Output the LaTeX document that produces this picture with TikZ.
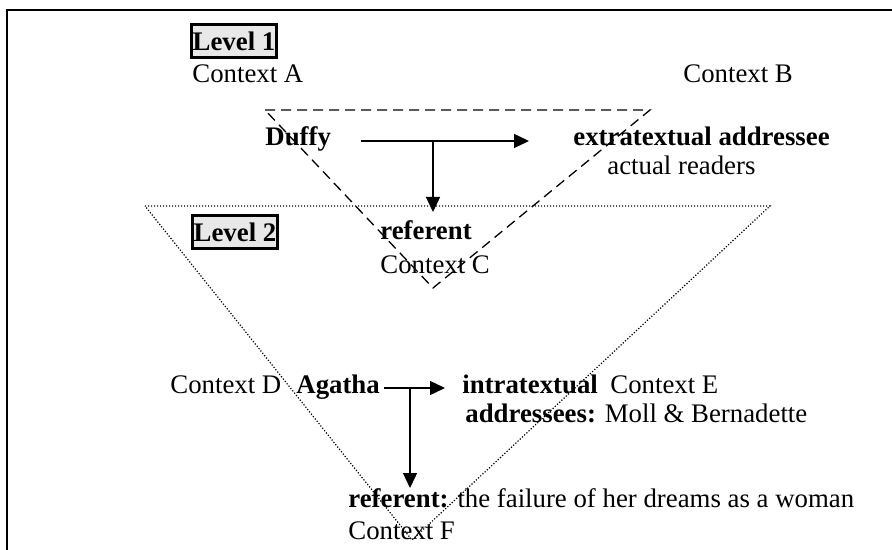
\documentclass[tikz,border=0pt]{standalone}
\usepackage{fontspec}
\setmainfont{Liberation Serif}
\usepackage{tikz}
\usetikzlibrary{arrows.meta,positioning,shadows}
\tikzset{t/.style={anchor=base west, inner sep=0pt}}
\tikzset{tb/.style={t, font=\bfseries}}
\tikzset{lvl/.style={draw, line width=1.1pt, fill=gray!18, font=\bfseries,
  inner xsep=0.6pt, inner ysep=0pt, minimum height=16.5pt,
  general shadow={fill=black, shadow xshift=0.8pt, shadow yshift=-0.8pt}}}
\tikzset{a/.style={draw, line width=0.7pt, -{Triangle[length=7.5pt,width=7pt]}}}
\tikzset{dsh/.style={draw, line width=0.65pt, dash pattern=on 5pt off 3pt}}
\tikzset{dt/.style={draw, line width=0.6pt, dash pattern=on 0.6pt off 0.9pt}}
\begin{document}
\begin{tikzpicture}[x=0.5pt,y=-0.5pt]
        \fontsize{13.4}{16}\selectfont
        \useasboundingbox (0,0) rectangle (892,550);
        %% frame
        \draw[line width=1pt] (7,550) -- (7,10) -- (892,10);
        %% triangles
        \draw[dsh] (265,110) -- (650,110) -- (433,288) -- cycle;
        \draw[dt] (145,206) -- (770,206) -- (412,540) -- cycle;
        %% Level 1
        \node (l1) at (234,41) [lvl] {Level 1};
        \node (ca) at (192,83) [t] {Context A};
        \node (cb) at (683,83) [t] {Context B};
        \node (duffy) at (265,146) [tb] {Duffy};
        \node (extra) at (573,146) [tb] {extratextual addressee};
        \node (readers) at (607,175) [t] {actual readers};
        %% Level 2
        \node (l2) at (235,232) [lvl] {Level 2};
        \node (ref1) at (380,240) [tb] {referent};
        \node (cc) at (380,273) [t] {Context C};
        \node (cd) at (170,393) [t] {Context D};
        \node (agatha) at (296,393) [tb] {Agatha};
        \node (intra) at (462,393) [tb] {intratextual};
        \node (ce) at (610,393) [t] {Context E};
        \node (addr) at (465,422) [t] {\textbf{addressees:} Moll \& Bernadette};
        \node (ref2) at (348,507) [t] {\textbf{referent:} the failure of her dreams as a woman};
        \node (cf) at (348,539) [t] {Context F};
        %% arrows
        \coordinate (j1) at (433,141);
        \coordinate (j2) at (410,388);
        \draw [a, shorten <=15pt, shorten >=22pt] (duffy.east |- j1) -- (extra.west |- j1);
        \draw [a] (j1) -- (433,212);
        \draw [a, shorten <=2pt, shorten >=8.5pt] (agatha.east |- j2) -- (intra.west |- j2);
        \draw [a] (j2) -- (410,488);
\end{tikzpicture}
\end{document}
